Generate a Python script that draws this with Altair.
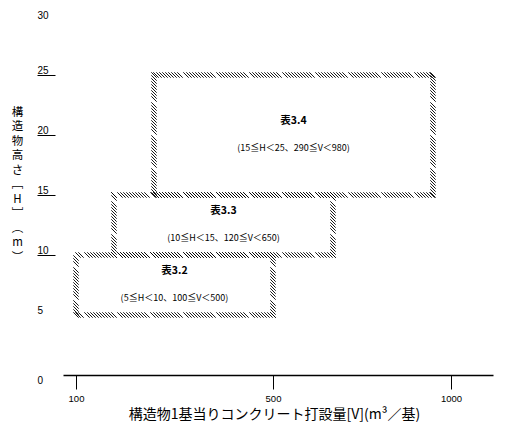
import altair as alt
import pandas as pd

# ---- data ----
tables = ["表3.2", "表3.3", "表3.4"]
h_min = [5, 10, 15]
h_max = [10, 15, 25]
v_min = [100, 120, 290]
v_max = [500, 650, 980]

x_ticks = [100, 500, 1000]
y_ticks = [0, 5, 10, 15, 20, 25, 30]

x_title = "構造物1基当りコンクリート打設量[V](m³／基)"
y_title = ["構", "造", "物", "高", "さ", "﹇", "H", "﹈", "︵", "m", "︶"]

# the original V axis is schematic (not to scale): piecewise-linear scale
v_breaks = [60, 100, 120, 290, 500, 650, 980, 1000, 1150]
v_pixels = [0, 13, 51, 91, 210, 270, 370, 388, 430]

df = pd.DataFrame({"table": tables, "h1": h_min, "h2": h_max, "v1": v_min, "v2": v_max})
df["range"] = [f"({a}≦H＜{b}、{c}≦V＜{d})" for a, b, c, d in zip(h_min, h_max, v_min, v_max)]

# the four hatched sides of every box (derived from the box data above)
edge_rows = []
for t, a, b, c, d in zip(tables, h_min, h_max, v_min, v_max):
    edge_rows.append({"box": t, "orient": "h", "xa": c, "xb": d, "ya": b, "yb": b})
    edge_rows.append({"box": t, "orient": "h", "xa": c, "xb": d, "ya": a, "yb": a})
    edge_rows.append({"box": t, "orient": "v", "xa": c, "xb": c, "ya": a, "yb": b})
    edge_rows.append({"box": t, "orient": "v", "xa": d, "xb": d, "ya": a, "yb": b})
edges = pd.DataFrame(edge_rows)

FONT = "Noto Sans CJK JP"
NUMF = "Liberation Sans"

xs = alt.Scale(domain=v_breaks, range=v_pixels, nice=False, zero=False)
ys = alt.Scale(domain=[0, 30], nice=False, zero=False)

base = alt.Chart(df)

# invisible boxes carrying the scales and axes
frame = base.mark_rect(opacity=0).encode(
    x=alt.X("v1:Q", scale=xs, axis=alt.Axis(
        values=x_ticks, title=x_title, grid=False, domain=True, domainColor="black",
        domainWidth=1.3, ticks=True, tickColor="black", tickSize=14, tickWidth=1,
        labelFont=NUMF, labelFontSize=9.5, labelPadding=4, labelColor="black",
        labelFlush=False, labelOverlap=False, format="d",
        titleFont=FONT, titleFontSize=14, titleFontWeight="normal", titlePadding=5,
        titleX=211, titleColor="black")),
    x2="v2:Q",
    y=alt.Y("h1:Q", scale=ys, axis=alt.Axis(
        values=y_ticks, title=y_title, grid=False, domain=False, ticks=True, tickSize=18,
        tickWidth=1,
        tickColor={"condition": {"test": "datum.value == 0 || datum.value == 5 || datum.value == 30",
                                 "value": "transparent"}, "value": "black"},
        labelAlign="left", labelPadding=0,
        labelBaseline={"condition": [{"test": "datum.value == 0", "value": "top"},
                                     {"test": "datum.value == 30", "value": "middle"}],
                       "value": "bottom"},
        labelFont=NUMF, labelFontSize=10, labelColor="black", labelOverlap=False, labelFlush=False,
        offset=8, titleAngle=0, titleX=-38, titleY=91, titleBaseline="top", titleAlign="center",
        titleFont=FONT, titleFontSize=11.5, titleLineHeight=14.5, titleFontWeight="normal",
        titleColor="black")),
    y2="h2:Q",
)

# diagonal hatch strokes along every side, on a common pixel grid so shared sides coincide
S = 3
hatch = alt.Chart(edges).transform_calculate(
    ax="scale('x', datum.xa)", bx="scale('x', datum.xb)",
    ay="scale('y', datum.ya)", by="scale('y', datum.yb)",
    k="sequence(0, 200)",
).transform_flatten(["k"]).transform_calculate(
    s0=f"datum.orient == 'h' ? ceil(min(datum.ax, datum.bx) / {S}) : ceil(min(datum.ay, datum.by) / {S})",
    s1=f"datum.orient == 'h' ? max(datum.ax, datum.bx) / {S} : max(datum.ay, datum.by) / {S}",
).transform_calculate(
    idx="datum.s0 + datum.k",
).transform_filter(
    "datum.idx <= datum.s1 && (datum.idx % 11) != 7"
).transform_calculate(
    cx=f"datum.orient == 'h' ? datum.idx * {S} : datum.ax",
    cy=f"datum.orient == 'h' ? datum.ay : datum.idx * {S}",
).transform_calculate(
    px1="datum.cx - 2.7", px2="datum.cx + 2.7", py1="datum.cy - 2.7", py2="datum.cy + 2.7"
).mark_rule(color="black", strokeWidth=0.9).encode(
    x=alt.X("px1:Q", scale=None, axis=None),
    x2="px2:Q",
    y=alt.Y("py1:Q", scale=None, axis=None),
    y2="py2:Q",
)

mid_x = {"expr": "(scale('x', datum.v1) + scale('x', datum.v2)) / 2"}

names = base.transform_calculate(hm="(datum.h1 + datum.h2) / 2").mark_text(
    font=FONT, fontSize=10.5, fontWeight="bold", color="black", dy=-14
).encode(x=alt.value(mid_x), y=alt.Y("hm:Q", scale=ys), text="table:N")

ranges = base.transform_calculate(hm="(datum.h1 + datum.h2) / 2").mark_text(
    font=FONT, fontSize=9, color="black", dy=13
).encode(x=alt.value(mid_x), y=alt.Y("hm:Q", scale=ys), text="range:N")

chart = alt.layer(frame, hatch, names, ranges).properties(
    width=430, height=360,
    autosize=alt.AutoSizeParams(type="none"),
    padding={"left": 55, "top": 7, "right": 4, "bottom": 52},
).configure_view(stroke=None)

chart.save("out.html", embed_options={"renderer": "svg", "actions": False})
